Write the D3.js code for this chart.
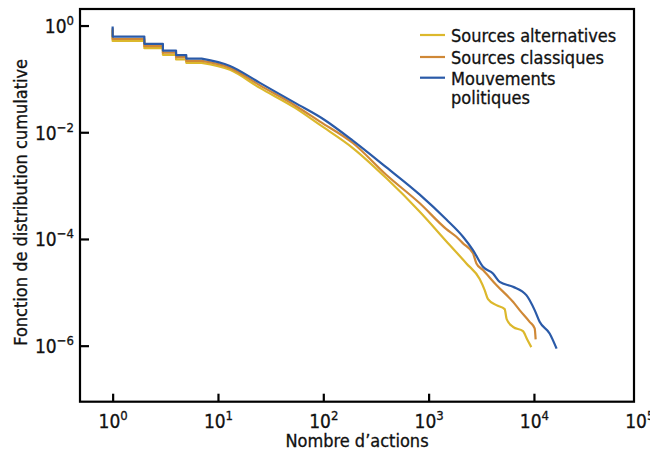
<!DOCTYPE html>
<html>
<head>
<meta charset="utf-8">
<script src="https://cdn.jsdelivr.net/npm/d3@7"></script>
<style>
  html, body { margin: 0; padding: 0; background: #fff; }
  svg { display: block; }
  text { font-family: "DejaVu Sans Condensed", "Liberation Sans Narrow", "Roboto", sans-serif; fill: #111; stroke: #111; stroke-width: 0.3px; }
</style>
</head>
<body>
<svg id="chart" width="650" height="453"></svg>
<script>
// ---- data ----
const seriesNames = ["Sources alternatives", "Sources classiques", "Mouvements politiques"];
const seriesColors = ["#dcb82c", "#cf8836", "#2a5aa8"];

const stepX = [1, 2, 3, 4, 5, 7];
const altStepY = [0.82, 0.515, 0.377, 0.282, 0.232, 0.2];
const claStepY = [0.89, 0.56, 0.41, 0.31, 0.255, 0.217];
const polStepY = [0.96, 0.62, 0.454, 0.34, 0.28, 0.24];

const altX = [7, 13, 25, 54, 93, 192, 398, 824, 1585, 2284, 3055, 3406, 3663, 4397, 5272, 5508, 6324, 7870, 8610, 9440];
const altY = [0.2, 0.148, 0.0678, 0.0286, 0.0137, 0.00501, 0.00137, 3.24e-4, 7.69e-5, 3.48e-5, 1.77e-5, 1.10e-5, 7.45e-6, 5.75e-6, 4.84e-6, 3.14e-6, 2.25e-6, 1.87e-6, 1.32e-6, 9.4e-7];

const claX = [7, 13, 25, 54, 93, 192, 398, 824, 1475, 1835, 2120, 2638, 2843, 3281, 4397, 6324, 7311, 9100, 10160, 10380];
const claY = [0.217, 0.161, 0.0755, 0.0318, 0.0158, 0.00622, 0.00158, 4.66e-4, 1.53e-4, 1.10e-4, 8.26e-5, 5.37e-5, 3.48e-5, 2.61e-5, 1.37e-5, 6.64e-6, 4.64e-6, 2.80e-6, 2.10e-6, 1.31e-6];

const polX = [7, 13, 25, 54, 103, 192, 398, 824, 1475, 2120, 2638, 3281, 4083, 4727, 6324, 8472, 10160, 11320, 14090, 16410];
const polY = [0.24, 0.175, 0.0841, 0.0355, 0.017, 0.0069, 0.00219, 6.76e-4, 2.31e-4, 1.10e-4, 6.19e-5, 3.01e-5, 2.26e-5, 1.57e-5, 1.27e-5, 8.86e-6, 4.64e-6, 2.80e-6, 1.69e-6, 8.8e-7];

const xTickExp = [0, 1, 2, 3, 4, 5];
const yTickExp = [0, -2, -4, -6];
const xLabel = "Nombre d’actions";
const yLabel = "Fonction de distribution cumulative";

// ---- layout ----
const svg = d3.select("#chart");
const L = 80, R = 634, T = 9, B = 401.7;

const x = d3.scaleLog().domain([Math.pow(10, -0.31), Math.pow(10, 4.95)]).range([L, R]);
const y = d3.scaleLog().domain([Math.pow(10, -7.05), Math.pow(10, 0.31)]).range([B, T]);

const series = [
  { steps: altStepY, xs: altX, ys: altY },
  { steps: claStepY, xs: claX, ys: claY },
  { steps: polStepY, xs: polX, ys: polY }
];

const stepLine = d3.line().x(d => x(d[0])).y(d => y(d[1])).curve(d3.curveStepBefore);
const smoothLine = d3.line().x(d => x(d[0])).y(d => y(d[1])).curve(d3.curveMonotoneX);

const lines = svg.append("g");
series.forEach((s, i) => {
  const stepPts = stepX.map((v, k) => [v, s.steps[k]]);
  const smPts = s.xs.map((v, k) => [v, s.ys[k]]);
  const d = stepLine(stepPts) + smoothLine(smPts).replace(/^M/, "L");
  lines.append("path")
    .attr("d", d)
    .attr("fill", "none")
    .attr("stroke", seriesColors[i])
    .attr("stroke-width", 2.2)
    .attr("stroke-linejoin", "round");
});

// frame
svg.append("rect")
  .attr("x", L).attr("y", T).attr("width", R - L).attr("height", B - T)
  .attr("fill", "none").attr("stroke", "#000").attr("stroke-width", 2.2);

// axes
const xAxis = d3.axisBottom(x).tickValues(xTickExp.map(e => Math.pow(10, e)))
  .tickSizeInner(-8).tickSizeOuter(0).tickFormat("");
const gx = svg.append("g").attr("transform", `translate(0,${B})`).call(xAxis);
gx.select(".domain").remove();
gx.selectAll(".tick line").attr("stroke", "#000").attr("stroke-width", 2.2)
  .attr("display", d => x(d) > R ? "none" : null);
gx.selectAll(".tick").each(function(d, i) {
  const t = d3.select(this).append("text")
    .attr("y", 26).attr("text-anchor", "middle")
    .style("font-size", "19px");
  t.append("tspan").text("10");
  t.append("tspan").attr("dy", -8).style("font-size", "13px").text(String(xTickExp[i]).replace("-", "−"));
});

const yAxis = d3.axisLeft(y).tickValues(yTickExp.map(e => Math.pow(10, e)))
  .tickSizeInner(-9).tickSizeOuter(0).tickFormat("");
const gy = svg.append("g").attr("transform", `translate(${L},0)`).call(yAxis);
gy.select(".domain").remove();
gy.selectAll(".tick line").attr("stroke", "#000").attr("stroke-width", 2.2);
gy.selectAll(".tick").each(function(d, i) {
  const t = d3.select(this).append("text")
    .attr("x", -6).attr("y", 7).attr("text-anchor", "end")
    .style("font-size", "19px");
  t.append("tspan").text("10");
  t.append("tspan").attr("dy", -8).style("font-size", "13px").text(String(yTickExp[i]).replace("-", "−"));
});
svg.selectAll(".tick text").attr("fill", "#111");

// axis labels
svg.append("text").attr("x", (L + R) / 2).attr("y", 446.5).attr("text-anchor", "middle")
  .style("font-size", "18px").text(xLabel);
svg.append("text").attr("transform", `translate(26.5,${(T + B) / 2 - 3}) rotate(-90)`)
  .attr("text-anchor", "middle").style("font-size", "18px").text(yLabel);

// legend
const legY = [35, 57, 77.7];
const legLabels = [["Sources alternatives"], ["Sources classiques"], ["Mouvements", "politiques"]];
const leg = svg.append("g");
seriesNames.forEach((n, i) => {
  leg.append("line").attr("x1", 420).attr("x2", 445).attr("y1", legY[i]).attr("y2", legY[i])
    .attr("stroke", seriesColors[i]).attr("stroke-width", 2.2);
  const t = leg.append("text").attr("x", 451).attr("y", legY[i] + 7).style("font-size", "18px");
  legLabels[i].forEach((s, k) => {
    t.append("tspan").attr("x", 451).attr("dy", k === 0 ? 0 : 19).text(s);
  });
});
</script>
</body>
</html>
